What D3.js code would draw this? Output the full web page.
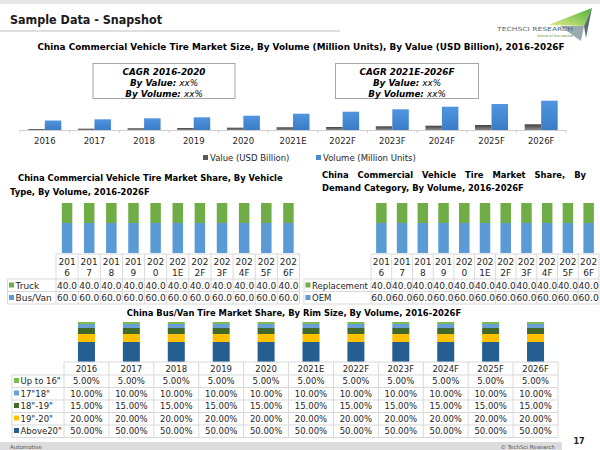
<!DOCTYPE html>
<html>
<head>
<meta charset="utf-8">
<script src="https://cdn.jsdelivr.net/npm/d3@7"></script>
<style>
html,body{margin:0;padding:0;background:#fff;}
svg{display:block;}
text{font-family:"DejaVu Sans",Verdana,sans-serif;}
</style>
</head>
<body>
<svg id="chart" width="600" height="450"></svg>
<script>
// ---------- DATA ----------
const years = ["2016","2017","2018","2019","2020","2021E","2022F","2023F","2024F","2025F","2026F"];
const valueUSD = [2.0, 2.6, 3.4, 4.0, 4.6, 5.4, 6.0, 7.4, 8.6, 10.0, 11.4];
const volumeMU = [19.0, 21.4, 23.4, 25.4, 28.6, 32.6, 36.6, 41.4, 46.6, 52.0, 58.6];
const truckShare = [40.0, 40.0, 40.0, 40.0, 40.0, 40.0, 40.0, 40.0, 40.0, 40.0, 40.0];
const busVanShare = [60.0, 60.0, 60.0, 60.0, 60.0, 60.0, 60.0, 60.0, 60.0, 60.0, 60.0];
const replacementShare = [40.0, 40.0, 40.0, 40.0, 40.0, 40.0, 40.0, 40.0, 40.0, 40.0, 40.0];
const oemShare = [60.0, 60.0, 60.0, 60.0, 60.0, 60.0, 60.0, 60.0, 60.0, 60.0, 60.0];
const rimLabels = ['Up to 16"', '17"18"', '18"-19"', '19"-20"', 'Above20"'];
const rimUpTo16 = [0.05, 0.05, 0.05, 0.05, 0.05, 0.05, 0.05, 0.05, 0.05, 0.05, 0.05];
const rim17to18 = [0.10, 0.10, 0.10, 0.10, 0.10, 0.10, 0.10, 0.10, 0.10, 0.10, 0.10];
const rim18to19 = [0.15, 0.15, 0.15, 0.15, 0.15, 0.15, 0.15, 0.15, 0.15, 0.15, 0.15];
const rim19to20 = [0.20, 0.20, 0.20, 0.20, 0.20, 0.20, 0.20, 0.20, 0.20, 0.20, 0.20];
const rimAbove20 = [0.50, 0.50, 0.50, 0.50, 0.50, 0.50, 0.50, 0.50, 0.50, 0.50, 0.50];

// ---------- SETUP ----------
const svg = d3.select("#chart");
const defs = svg.append("defs");
const gridCol = "#d9d9d9";
const txtCol = "#262626";

function grad(id, c1, c2){
  const g = defs.append("linearGradient").attr("id", id).attr("x1",0).attr("x2",0).attr("y1",0).attr("y2",1);
  g.append("stop").attr("offset","0%").attr("stop-color",c1);
  g.append("stop").attr("offset","100%").attr("stop-color",c2);
}
grad("gBlue", "#4f95e0", "#3b7cc6");
grad("gGray", "#3f3f3f", "#8c8c8c");
const lg = defs.append("linearGradient").attr("id","gLogo").attr("x1",0).attr("x2",1).attr("y1",1).attr("y2",0);
lg.append("stop").attr("offset","0%").attr("stop-color","#e4ee8a");
lg.append("stop").attr("offset","100%").attr("stop-color","#4caf3a");

// ---------- HEADER ----------
svg.append("rect").attr("x",0).attr("y",0).attr("width",600).attr("height",4).attr("fill","#e7e7e7");
svg.append("text").attr("x",10).attr("y",24).attr("font-family","'Open Sans',sans-serif")
  .attr("font-weight",700).attr("font-size",12.5).attr("fill","#1a1a1a")
  .attr("textLength",152).attr("lengthAdjust","spacingAndGlyphs").text("Sample Data - Snapshot");
svg.append("line").attr("x1",0).attr("x2",340).attr("y1",31).attr("y2",31).attr("stroke","#d4d4d4").attr("stroke-width",1.5);

// logo
const logo = svg.append("g");
logo.append("path").attr("d","M548,25 L592,8 L584,26 Z").attr("fill","url(#gLogo)");
logo.append("path").attr("d","M560,26 L584,26 L581,41 Z").attr("fill","#9aa8b0");
logo.append("path").attr("d","M584,26 L592,8 L586,38 Z").attr("fill","#5d6d77");
logo.append("text").attr("x",497).attr("y",31).attr("font-size",5.6).attr("fill","#4f6b74").attr("font-family","'Liberation Sans',sans-serif")
  .attr("textLength",76).attr("lengthAdjust","spacingAndGlyphs").text("TECHSCI RESEARCH");
logo.append("text").attr("x",573).attr("y",37).attr("text-anchor","end").attr("font-size",3.5).attr("font-style","italic").attr("fill","#6a8a3a")
  .text("future of the market");

// ---------- CHART 1 ----------
svg.append("text").attr("x",301).attr("y",50).attr("text-anchor","middle").attr("font-weight","bold")
  .attr("font-size",8).attr("fill","#000").attr("textLength",527).attr("lengthAdjust","spacingAndGlyphs")
  .text("China Commercial Vehicle Tire Market Size, By Volume (Million Units), By Value (USD Billion), 2016-2026F");

function cagrBox(x, w, title){
  const g = svg.append("g");
  g.append("rect").attr("x",x).attr("y",63.5).attr("width",w).attr("height",35).attr("fill","#fff").attr("stroke","#a6a6a6");
  const cx = x + w/2;
  g.append("text").attr("x",cx).attr("y",75).attr("text-anchor","middle").attr("font-size",8.8)
    .attr("font-weight","bold").attr("font-style","italic").attr("fill","#000").text(title);
  const t2 = g.append("text").attr("x",cx).attr("y",86).attr("text-anchor","middle").attr("font-size",8.8).attr("font-style","italic").attr("fill","#000");
  t2.append("tspan").attr("font-weight","bold").text("By Value: ");
  t2.append("tspan").text("xx%");
  const t3 = g.append("text").attr("x",cx).attr("y",97).attr("text-anchor","middle").attr("font-size",8.8).attr("font-style","italic").attr("fill","#000");
  t3.append("tspan").attr("font-weight","bold").text("By Volume: ");
  t3.append("tspan").text("xx%");
}
cagrBox(93, 142, "CAGR 2016-2020");
cagrBox(335.5, 143, "CAGR 2021E-2026F");

const x0 = d3.scaleBand().domain(years).range([20, 566]);
const yTop = d3.scaleLinear().domain([0, 60]).range([130, 100]);
const barW1 = 16.5;
const c1 = svg.append("g");
c1.selectAll("rect.val").data(years).join("rect").attr("class","val")
  .attr("x", d => x0(d) + x0.bandwidth()/2 - barW1)
  .attr("width", barW1)
  .attr("y", (d,i) => yTop(valueUSD[i]))
  .attr("height", (d,i) => yTop(0) - yTop(valueUSD[i]))
  .attr("fill","url(#gGray)");
c1.selectAll("rect.vol").data(years).join("rect").attr("class","vol")
  .attr("x", d => x0(d) + x0.bandwidth()/2)
  .attr("width", barW1)
  .attr("y", (d,i) => yTop(volumeMU[i]))
  .attr("height", (d,i) => yTop(0) - yTop(volumeMU[i]))
  .attr("fill","url(#gBlue)");
const ax1 = c1.append("g").attr("transform","translate(0,130)")
  .call(d3.axisBottom(x0).tickSize(0).tickPadding(8));
ax1.select(".domain").attr("stroke","#d0d0d0");
ax1.selectAll("text").attr("font-size",8.5).attr("fill",txtCol).attr("font-family","'DejaVu Sans',sans-serif");
c1.selectAll("line.tk").data(years.concat(["end"])).join("line").attr("class","tk")
  .attr("x1",(d,i)=> i<years.length ? x0(d) : x0.range()[1])
  .attr("x2",(d,i)=> i<years.length ? x0(d) : x0.range()[1])
  .attr("y1",130).attr("y2",133).attr("stroke","#d0d0d0");

// legend
const leg1 = [{label:"Value (USD Billion)", col:"#595959", x:203},{label:"Volume (Million Units)", col:"#4a8ad4", x:316}];
const lgG = svg.append("g").selectAll("g").data(leg1).join("g").attr("transform", d=>`translate(${d.x},158)`);
lgG.append("rect").attr("x",0).attr("y",-3).attr("width",5).attr("height",5).attr("fill",d=>d.col);
lgG.append("text").attr("x",7).attr("y",3).attr("font-size",8.5).attr("fill",txtCol).text(d=>d.label);

// ---------- justify helper ----------
function justify(g, str, xa, xb, y, size){
  const words = str.split(" ");
  const nodes = words.map(w => g.append("text").attr("y",y).attr("font-size",size).attr("font-weight","bold").attr("fill","#000").text(w));
  const widths = nodes.map(n => n.node().getComputedTextLength());
  const total = d3.sum(widths);
  const gap = (xb - xa - total) / (words.length - 1);
  let x = xa;
  nodes.forEach((n,i) => { n.attr("x", x); x += widths[i] + gap; });
}

// ---------- SHARE CHARTS ----------
const cGreen = "#70ad47", cBlue = "#5b9bd5";
function shareChart(opts){
  const g = svg.append("g");
  const xs = d3.scaleBand().domain(years).range([opts.x0, opts.x1]);
  const ys = d3.scaleLinear().domain([0,100]).range([253, 203]);
  const bw = opts.bw;
  const series = [{vals:opts.bottom, col:cBlue},{vals:opts.top, col:cGreen}];
  const stack = d3.stack().keys([0,1]).value((d,k)=>series[k].vals[d])(d3.range(years.length));
  stack.forEach((layer,k)=>{
    g.selectAll(null).data(layer).join("rect")
      .attr("x",(d,i)=>xs(years[i]) + xs.bandwidth()/2 - bw/2)
      .attr("width",bw)
      .attr("y",d=>ys(d[1]))
      .attr("height",d=>ys(d[0])-ys(d[1]))
      .attr("fill",series[k].col);
  });
  // table
  const tTop = 254, tHead = 279, tRow1 = 291.5, tBot = 304;
  const L = opts.hx;
  g.append("line").attr("x1",opts.x0).attr("x2",opts.x1).attr("y1",tTop).attr("y2",tTop).attr("stroke",gridCol);
  [tHead, tRow1, tBot].forEach(y => g.append("line").attr("x1",L).attr("x2",opts.x1).attr("y1",y).attr("y2",y).attr("stroke",gridCol));
  g.selectAll(null).data(years.concat(["_end"])).join("line")
    .attr("x1",(d,i)=> i<years.length ? xs(d) : opts.x1).attr("x2",(d,i)=> i<years.length ? xs(d) : opts.x1)
    .attr("y1",tTop).attr("y2",tBot).attr("stroke",gridCol);
  g.append("line").attr("x1",L).attr("x2",L).attr("y1",tHead).attr("y2",tBot).attr("stroke",gridCol);
  // header labels (wrapped)
  const hl = g.selectAll(null).data(years).join("text")
    .attr("text-anchor","middle").attr("font-size",9).attr("fill",txtCol);
  hl.append("tspan").attr("x",d=>xs(d)+xs.bandwidth()/2).attr("y",265).text(d=>d.slice(0,3));
  hl.append("tspan").attr("x",d=>xs(d)+xs.bandwidth()/2).attr("y",276).text(d=>d.slice(3));
  const rows = [{label:opts.topLabel, vals:opts.top, col:cGreen, y:288.5},{label:opts.bottomLabel, vals:opts.bottom, col:cBlue, y:301}];
  rows.forEach(r=>{
    g.append("rect").attr("x",L+1.5).attr("y",r.y-6).attr("width",5).attr("height",5).attr("fill",r.col);
    g.append("text").attr("x",L+8).attr("y",r.y).attr("font-size",opts.lblSize).attr("fill",txtCol).text(r.label);
    g.selectAll(null).data(r.vals).join("text")
      .attr("x",(d,i)=>xs(years[i])+xs.bandwidth()/2).attr("y",r.y)
      .attr("text-anchor","middle").attr("font-size",9).attr("fill",txtCol)
      .text(d=>d3.format(".1f")(d));
  });
  return g;
}
const left = shareChart({x0:56, x1:299.5, hx:7.5, bw:10.5, lblSize:9, top:truckShare, bottom:busVanShare, topLabel:"Truck", bottomLabel:"Bus/Van"});
left.append("text").attr("x",18).attr("y",181).attr("font-size",8.4).attr("font-weight","bold").attr("fill","#000")
  .text("China Commercial Vehicle Tire Market Share, By Vehicle");
left.append("text").attr("x",10).attr("y",195).attr("font-size",8.4).attr("font-weight","bold").attr("fill","#000")
  .text("Type, By Volume, 2016-2026F");

const right = shareChart({x0:371, x1:599, hx:304, bw:10.5, lblSize:8.5, top:replacementShare, bottom:oemShare, topLabel:"Replacement", bottomLabel:"OEM"});
justify(right, "China Commercial Vehicle Tire Market Share, By", 322, 586, 178, 8.4);
right.append("text").attr("x",322).attr("y",191).attr("font-size",8.4).attr("font-weight","bold").attr("fill","#000")
  .text("Demand Category, By Volume, 2016-2026F");

// ---------- CHART 3: RIM SIZE ----------
svg.append("text").attr("x",294).attr("y",316).attr("text-anchor","middle").attr("font-size",8.4).attr("font-weight","bold")
  .attr("fill","#000").text("China Bus/Van Tire Market Share, By Rim Size, By Volume, 2016-2026F");
const rimSeries = [rimAbove20, rim19to20, rim18to19, rim17to18, rimUpTo16];
const rimCols = ["#255e91", "#ffc000", "#43682b", "#6a9fd8", "#7cbc4f"];
const xB = d3.scaleBand().domain(years).range([64, 558]);
const yB = d3.scaleLinear().domain([0,1]).range([362, 322]);
const stackB = d3.stack().keys([0,1,2,3,4]).value((d,k)=>rimSeries[k][d])(d3.range(years.length));
const c3 = svg.append("g");
stackB.forEach((layer,k)=>{
  c3.selectAll(null).data(layer).join("rect")
    .attr("x",(d,i)=>xB(years[i])+xB.bandwidth()/2-8.5).attr("width",17)
    .attr("y",d=>yB(d[1])).attr("height",d=>yB(d[0])-yB(d[1]))
    .attr("fill",rimCols[k]);
});
// table
const rowYs = [375, 387.5, 400, 412.5, 425, 437.5];
c3.append("line").attr("x1",64).attr("x2",558).attr("y1",362).attr("y2",362).attr("stroke",gridCol);
rowYs.forEach(y=>c3.append("line").attr("x1",12).attr("x2",558).attr("y1",y).attr("y2",y).attr("stroke",gridCol));
c3.selectAll(null).data(years.concat(["_e"])).join("line")
  .attr("x1",(d,i)=> i<years.length ? xB(d) : 558).attr("x2",(d,i)=> i<years.length ? xB(d) : 558)
  .attr("y1",362).attr("y2",437.5).attr("stroke",gridCol);
c3.append("line").attr("x1",12).attr("x2",12).attr("y1",375).attr("y2",437.5).attr("stroke",gridCol);
c3.selectAll(null).data(years).join("text")
  .attr("x",d=>xB(d)+xB.bandwidth()/2).attr("y",371.5).attr("text-anchor","middle")
  .attr("font-size",8.5).attr("fill",txtCol).text(d=>d);
const rimRows = [
  {label:rimLabels[0], vals:rimUpTo16, col:rimCols[4]},
  {label:rimLabels[1], vals:rim17to18, col:rimCols[3]},
  {label:rimLabels[2], vals:rim18to19, col:rimCols[2]},
  {label:rimLabels[3], vals:rim19to20, col:rimCols[1]},
  {label:rimLabels[4], vals:rimAbove20, col:rimCols[0]}
];
rimRows.forEach((r,j)=>{
  const y = rowYs[j] + 9;
  c3.append("rect").attr("x",14).attr("y",y-6).attr("width",5).attr("height",5).attr("fill",r.col);
  c3.append("text").attr("x",20.5).attr("y",y).attr("font-size",8.5).attr("fill",txtCol).text(r.label);
  c3.selectAll(null).data(r.vals).join("text")
    .attr("x",(d,i)=>xB(years[i])+xB.bandwidth()/2).attr("y",y).attr("text-anchor","middle")
    .attr("font-size",8.5).attr("fill",txtCol).text(d=>d3.format(".2%")(d));
});

// ---------- FOOTER ----------
svg.append("rect").attr("x",0).attr("y",442).attr("width",562).attr("height",8).attr("fill","#dcdcdc");
svg.append("text").attr("x",10).attr("y",448.5).attr("font-size",5.5).attr("fill","#555").text("Automotive");
svg.append("text").attr("x",555).attr("y",448.5).attr("text-anchor","end").attr("font-size",5.5).attr("fill","#555").text("© TechSci Research");
svg.append("text").attr("x",579).attr("y",444).attr("text-anchor","middle").attr("font-size",8).attr("font-weight","bold").attr("fill","#222").text("17");
</script>
</body>
</html>
